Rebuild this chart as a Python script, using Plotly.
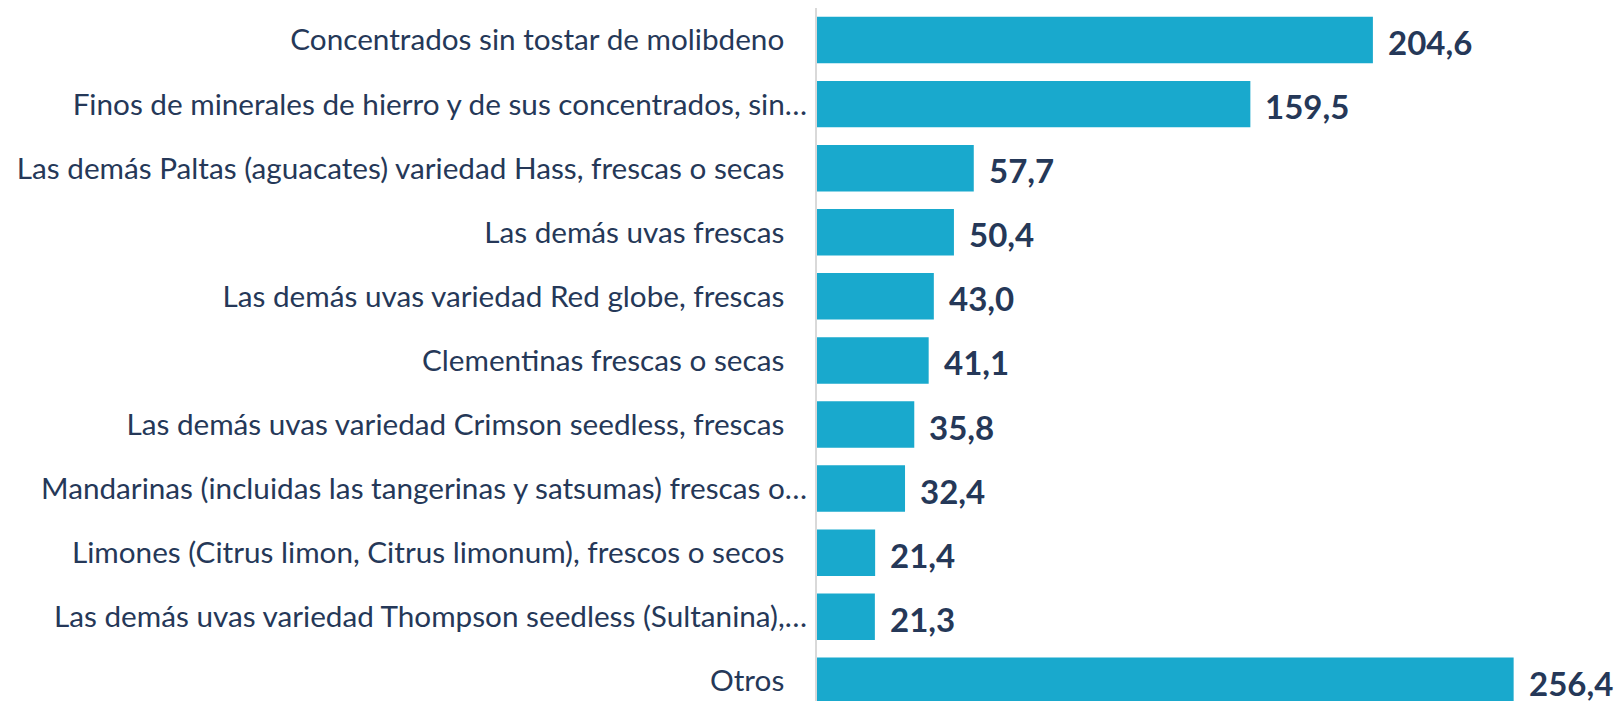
import plotly.graph_objects as go

categories = [
    "Concentrados sin tostar de molibdeno",
    "Finos de minerales de hierro y de sus concentrados, sin…",
    "Las demás Paltas (aguacates) variedad Hass, frescas o secas",
    "Las demás uvas frescas",
    "Las demás uvas variedad Red globe, frescas",
    "Clementinas frescas o secas",
    "Las demás uvas variedad Crimson seedless, frescas",
    "Mandarinas (incluidas las tangerinas y satsumas) frescas o…",
    "Limones (Citrus limon, Citrus limonum), frescos o secos",
    "Las demás uvas variedad Thompson seedless (Sultanina),…",
    "Otros",
]
values = [204.6, 159.5, 57.7, 50.4, 43.0, 41.1, 35.8, 32.4, 21.4, 21.3, 256.4]

# tick labels: full labels carry trailing padding like the original
tick_text = [c if c.endswith("…") else c + "\u00a0\u00a0\u00a0" for c in categories]

BAR = "#19A9CD"
NAVY = "#253858"
FONT = "Lato"

# the page body adds an 8px offset, so the figure is sized to fill the rest
W, H = 1614, 693
L = 809

fig = go.Figure()
fig.add_trace(go.Bar(
    x=values, y=categories, orientation="h",
    marker=dict(color=BAR, line=dict(width=0)),
    hoverinfo="skip",
))

for c, v in zip(categories, values):
    fig.add_annotation(
        x=v, y=c, xref="x", yref="y",
        text=f"{v:.1f}".replace(".", ","),
        showarrow=False, xanchor="left", yanchor="middle",
        xshift=13, yshift=-2,
        font=dict(family=FONT, size=33, color=NAVY, weight="bold"),
    )

fig.update_layout(
    width=W, height=H,
    margin=dict(l=L, r=0, t=0, b=0, autoexpand=False),
    paper_bgcolor="white", plot_bgcolor="white",
    showlegend=False,
    bargap=0.275,
    font=dict(family=FONT, color=NAVY),
)
fig.update_xaxes(
    range=[0, (W - L) / 2.717],
    showgrid=False, zeroline=False, showticklabels=False, showline=False,
    automargin=False,
)
fig.update_yaxes(
    type="category",
    categoryorder="array", categoryarray=categories,
    tickmode="array", tickvals=categories, ticktext=tick_text,
    range=[10.315, -0.5],
    showgrid=False, zeroline=False,
    showline=True, linecolor="#D9D9D9", linewidth=2,
    ticks="", ticklabelstandoff=2,
    automargin=False,
    tickfont=dict(family=FONT, size=29.7, color=NAVY),
)

fig.write_html("out.html")
